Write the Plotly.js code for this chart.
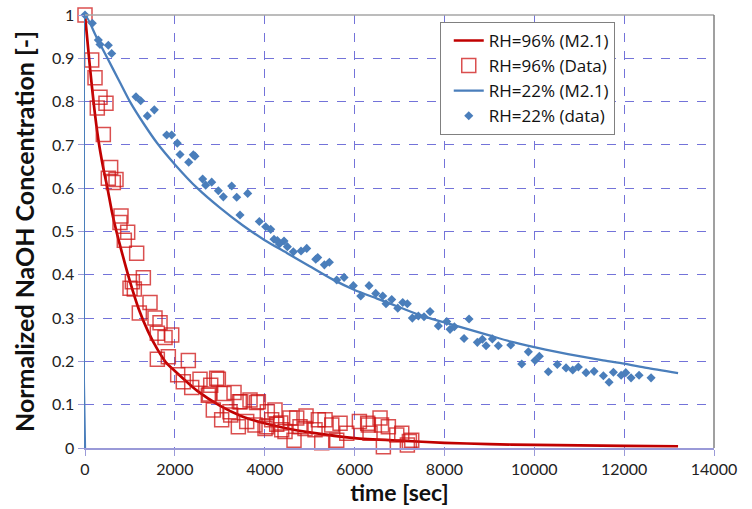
<!DOCTYPE html>
<html>
<head>
<meta charset="utf-8">
<script src="https://cdn.plot.ly/plotly-3.0.1.min.js"></script>
<style>html,body{margin:0;padding:0;background:#fff;}#chart{width:752px;height:509px;}</style>
</head>
<body>
<div id="chart"></div>
<script>
// RH=96% model (M2.1)
const redModelT = [0,100,200,300,400,500,600,700,800,1000,1200,1400,1600,1800,2000,2500,3000,3500,4000,4500,5000,6000,7000,8000,9000,10000,11000,12000,13200];
const redModelC = [1,0.89,0.79,0.71,0.65,0.60,0.545,0.50,0.46,0.385,0.32,0.27,0.23,0.198,0.178,0.132,0.098,0.073,0.057,0.045,0.036,0.023,0.017,0.012,0.009,0.007,0.006,0.005,0.004];

// RH=96% data
const redDataT = [0,149,223,274,334,408,467,519,571,630,690,779,801,875,950,1002,1054,1098,1150,1209,1299,1447,1558,1610,1610,1670,1781,1855,1930,2063,2188,2300,2375,2560,2745,2767,2798,2856,2931,2968,3042,3094,3228,3243,3317,3413,3435,3466,3599,3673,3784,3822,3858,4007,4044,4058,4155,4229,4267,4356,4378,4452,4563,4652,4712,4786,4897,4920,5120,5194,5269,5343,5492,5603,5677,5826,6107,6292,6307,6344,6567,6600,6641,6752,6939,7050,7175,7220,7272];
const redDataC = [1.0,0.896,0.855,0.785,0.81,0.724,0.796,0.623,0.648,0.613,0.62,0.521,0.536,0.48,0.498,0.369,0.384,0.367,0.45,0.312,0.393,0.336,0.30,0.265,0.205,0.289,0.255,0.211,0.261,0.169,0.153,0.202,0.14,0.159,0.122,0.125,0.145,0.088,0.161,0.159,0.065,0.126,0.084,0.076,0.128,0.049,0.107,0.107,0.061,0.111,0.053,0.105,0.107,0.045,0.049,0.084,0.065,0.088,0.055,0.058,0.042,0.038,0.069,0.018,0.069,0.049,0.045,0.074,0.042,0.065,0.012,0.065,0.053,0.018,0.057,0.034,0.061,0.057,0.053,0.034,0.069,0.053,0.003,0.049,0.030,0.034,0.007,0.015,0.018];

// RH=22% model (M2.1)
const blueModelT = [0,0,250,500,750,1000,1300,1600,2000,2500,3000,3500,4000,4500,5000,5500,6000,6500,7000,7500,8000,8500,9000,9500,10000,10500,11000,11500,12000,12500,13200];
const blueModelC = [0,1,0.95,0.90,0.85,0.80,0.75,0.705,0.655,0.60,0.555,0.515,0.48,0.45,0.42,0.39,0.365,0.345,0.325,0.305,0.29,0.275,0.26,0.245,0.233,0.222,0.212,0.203,0.195,0.185,0.173];

// RH=22% data
const blueDataT = [0,163,297,334,519,594,1135,1239,1388,1543,1818,1929,2055,2115,2308,2411,2448,2619,2686,2820,2968,3079,3265,3377,3450,3621,3880,4022,4133,4207,4281,4326,4430,4504,4637,4808,4935,5136,5180,5328,5439,5603,5766,5973,6137,6322,6471,6627,6700,6827,6961,7072,7175,7286,7420,7546,7680,7865,8051,8125,8221,8437,8548,8733,8844,8927,9067,9200,9476,9721,9868,10017,10113,10313,10513,10707,10856,10981,11153,11331,11538,11665,11761,11933,12036,12154,12332,12599];
const blueDataC = [1.0,0.981,0.942,0.932,0.93,0.911,0.811,0.802,0.767,0.781,0.723,0.723,0.704,0.678,0.66,0.677,0.674,0.621,0.607,0.614,0.594,0.58,0.605,0.579,0.538,0.588,0.523,0.511,0.505,0.482,0.479,0.471,0.478,0.465,0.453,0.455,0.461,0.436,0.44,0.423,0.429,0.388,0.394,0.375,0.351,0.375,0.357,0.351,0.333,0.343,0.323,0.336,0.333,0.30,0.305,0.303,0.315,0.282,0.292,0.274,0.28,0.253,0.298,0.244,0.251,0.236,0.252,0.236,0.238,0.194,0.222,0.202,0.212,0.176,0.193,0.185,0.18,0.187,0.174,0.177,0.167,0.152,0.175,0.168,0.174,0.162,0.168,0.162];

const seriesNames = ['RH=96% (M2.1)', 'RH=96% (Data)', 'RH=22% (M2.1)', 'RH=22% (data)'];

const gridColor = 'rgba(90,90,210,0.85)';
const axisColor = '#9a9ad8';
const fontFam = 'Lato, "Open Sans", sans-serif';

const traces = [
  {x: redModelT, y: redModelC, name: seriesNames[0], mode: 'lines', type: 'scatter',
   line: {color: '#c00000', width: 2.7, shape: 'spline', smoothing: 0.6}},
  {x: redDataT, y: redDataC, name: seriesNames[1], mode: 'markers', type: 'scatter', cliponaxis: false,
   marker: {symbol: 'square-open', size: 14, color: 'rgba(205,20,20,0.75)', line: {width: 1.5}}},
  {x: blueModelT, y: blueModelC, name: seriesNames[2], mode: 'lines', type: 'scatter', cliponaxis: false,
   line: {color: '#4a7ebb', width: 2.3, shape: 'spline', smoothing: 0.6}},
  {x: blueDataT, y: blueDataC, name: seriesNames[3], mode: 'markers', type: 'scatter', cliponaxis: false,
   marker: {symbol: 'diamond', size: 7, color: '#4a7ebb'}}
];

const layout = {
  width: 752, height: 509,
  margin: {l: 85, r: 38, t: 15, b: 61},
  paper_bgcolor: '#ffffff', plot_bgcolor: '#ffffff',
  font: {family: fontFam, size: 16, color: '#222'},
  showlegend: true,
  legend: {x: 0.564, y: 0.984, xanchor: 'left', yanchor: 'top',
    bgcolor: '#ffffff', bordercolor: '#808080', borderwidth: 1, indentation: 8,
    font: {family: '"Open Sans", Lato, sans-serif', size: 17, color: '#111'}, itemwidth: 30, tracegroupgap: 0},
  xaxis: {range: [0, 14000], dtick: 2000, tick0: 0, tickformat: 'd', showgrid: true, gridcolor: gridColor, griddash: 'dash', gridwidth: 1,
    zeroline: false, showline: true, linecolor: axisColor, linewidth: 1.5, ticks: 'outside', ticklen: 6, tickcolor: axisColor,
    tickfont: {size: 16, color: '#222'},
    title: {text: 'time [sec]', font: {size: 23, color: '#111', weight: 'bold'}, standoff: 8}},
  yaxis: {range: [0, 1], dtick: 0.1, tick0: 0, showgrid: true, gridcolor: gridColor, griddash: 'dash', gridwidth: 1,
    zeroline: false, showline: true, linecolor: '#4a7ebb', linewidth: 1.5, ticks: 'outside', ticklen: 6, tickcolor: axisColor,
    tickfont: {size: 16, color: '#222'},
    title: {text: 'Normalized NaOH Concentration [-]', font: {size: 25, color: '#111', weight: 'bold'}, standoff: 10}},
  shapes: [
    {type: 'line', xref: 'paper', yref: 'paper', x0: 0, x1: 1, y0: 1, y1: 1, line: {color: '#a6a6a6', width: 1.5}},
    {type: 'line', xref: 'paper', yref: 'paper', x0: 1, x1: 1, y0: 0, y1: 1, line: {color: '#808080', width: 1.5}}
  ]
};

Plotly.newPlot('chart', traces, layout, {displayModeBar: false, staticPlot: true});
</script>
</body>
</html>
